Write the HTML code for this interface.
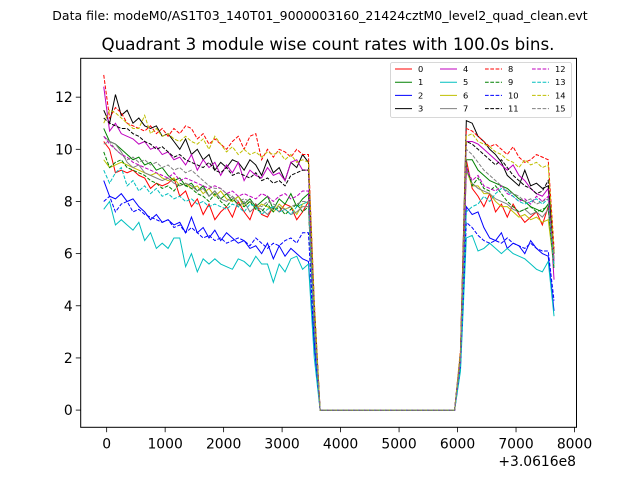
<!DOCTYPE html>
<html><head><meta charset="utf-8"><style>
body{margin:0;background:#fff}
svg{display:block;font-family:"DejaVu Sans","Liberation Sans",sans-serif}
</style></head><body>
<svg id="chart" width="640" height="480" viewBox="0 0 640 480">
<rect width="640" height="480" fill="#fff"/>
<text x="320" y="20" font-size="12.5" text-anchor="middle">Data file: modeM0/AS1T03_140T01_9000003160_21424cztM0_level2_quad_clean.evt</text>
<text x="328" y="50" font-size="16.7" text-anchor="middle">Quadrant 3 module wise count rates with 100.0s bins.</text>
<g id="plot"></g>
<g id="axes"></g>
<g id="legend"></g>
</svg>
<script>
const times = [];
for (let i = 0; i < 78; i++) times.push(-50 + 100 * i);
const gapZeros = [0,0,0,0,0,0,0,0,0,0,0,0,0,0,0,0,0,0,0,0,0,0,0,0];
const xTicks = [0,1000,2000,3000,4000,5000,6000,7000,8000];
const yTicks = [0,2,4,6,8,10,12];
const seriesNames = ["0","1","2","3","4","5","6","7","8","9","10","11","12","13","14","15"];
const s0 = [10.3,10.0,9.1,9.2,9.1,9.2,9.0,8.9,8.5,8.7,8.6,8.7,8.9,8.2,8.4,7.8,8.1,7.5,7.9,7.3,7.6,7.8,7.4,8.0,7.6,7.3,7.9,7.5,7.4,7.8,7.6,7.9,7.8,7.3,7.6,8.0,3.5, ...gapZeros, 2.0,9.6,8.5,8.2,7.8,8.3,7.6,7.9,7.4,7.9,7.5,7.2,7.4,7.6,7.1,7.8,5.8];
const s1 = [10.8,10.3,10.2,10.0,9.8,9.6,9.7,9.4,9.5,9.2,9.3,9.0,8.8,8.9,8.6,8.7,8.4,8.6,8.2,8.4,8.1,8.3,8.0,8.2,7.9,8.1,7.8,8.0,8.2,7.7,8.1,7.9,8.3,7.8,8.1,8.3,3.2, ...gapZeros, 2.1,9.6,9.6,9.2,9.0,8.8,8.7,8.6,8.5,8.3,8.1,8.0,7.8,7.7,7.6,7.9,6.0];
const s2 = [8.8,8.2,8.1,8.3,8.0,8.1,7.8,7.6,7.3,7.5,7.2,7.3,7.1,7.2,6.8,7.4,6.8,7.0,6.6,6.9,6.5,6.8,6.6,6.4,6.5,6.2,6.3,6.0,6.4,5.8,6.3,5.9,6.2,6.0,5.8,5.7,2.5, ...gapZeros, 1.8,7.8,7.5,7.6,7.0,6.6,6.5,6.8,6.2,6.4,6.3,6.0,6.5,6.2,6.0,5.9,3.8];
const s3 = [11.5,11.0,12.1,11.3,11.5,11.0,11.2,10.9,10.8,10.9,10.5,10.6,10.3,10.0,10.4,9.8,10.0,9.6,9.8,9.2,9.5,9.3,9.6,9.5,9.2,9.6,9.4,9.0,9.6,9.1,9.3,8.8,9.5,9.3,9.8,9.5,4.0, ...gapZeros, 2.2,11.1,11.0,10.5,10.3,10.0,9.8,9.5,9.0,8.8,8.6,9.2,8.6,8.7,8.5,8.6,6.0];
const s4 = [12.4,10.7,11.0,10.6,10.5,10.4,10.2,10.3,10.0,10.1,9.8,9.9,9.6,9.7,9.4,9.8,9.2,9.6,9.3,9.5,9.0,9.4,9.1,9.5,8.8,9.2,9.0,8.9,9.3,9.0,9.1,8.8,9.5,9.6,9.2,9.2,3.6, ...gapZeros, 2.0,10.3,10.3,10.2,10.0,9.8,9.6,9.4,9.2,9.4,9.0,8.8,8.5,8.3,8.2,8.5,5.0];
const s5 = [7.7,8.0,7.1,7.3,7.1,6.9,7.2,6.5,6.8,6.2,6.4,6.2,6.6,6.6,5.5,6.0,5.3,5.8,5.6,5.8,5.6,5.5,5.4,5.8,5.7,5.5,5.9,5.6,5.6,4.9,5.6,5.3,5.8,5.9,5.4,5.6,2.0, ...gapZeros, 1.5,6.6,6.7,6.1,6.2,6.4,6.2,6.0,6.2,6.0,5.9,5.8,5.6,5.4,5.3,5.7,3.6];
const s6 = [9.6,9.3,9.4,9.5,9.4,9.3,9.2,9.1,9.0,9.1,8.9,8.8,8.9,8.6,8.7,8.5,8.6,8.3,8.5,8.2,8.4,8.1,8.0,8.2,7.8,8.0,7.7,7.9,7.8,7.6,7.9,7.7,7.8,7.5,7.9,8.0,3.0, ...gapZeros, 2.0,9.2,8.6,8.6,8.3,8.3,8.0,7.8,7.8,7.6,7.4,7.5,7.3,7.4,7.2,7.3,5.5];
const s7 = [10.5,10.3,10.2,9.9,9.5,9.3,9.4,9.1,9.0,8.9,8.8,8.9,8.7,8.6,8.7,8.6,8.4,8.5,8.2,8.4,8.1,8.0,8.2,7.8,8.0,7.6,7.8,7.7,7.5,7.8,7.6,7.7,7.5,7.6,7.8,7.8,3.1, ...gapZeros, 1.9,9.2,8.7,8.5,8.4,8.3,8.1,8.0,7.9,7.7,7.6,7.7,7.5,7.6,7.4,7.7,5.6];
const s8 = [12.85,11.2,11.6,11.4,11.0,10.9,10.8,10.7,10.9,10.6,10.8,10.5,10.8,10.6,10.9,10.8,10.4,10.6,10.2,10.4,10.2,10.0,10.3,10.5,10.0,10.5,10.6,9.6,10.0,9.7,10.0,9.9,9.7,10.0,9.8,9.8,4.2, ...gapZeros, 2.3,10.8,10.7,10.5,10.3,10.1,10.2,10.0,9.8,10.1,9.7,9.5,9.6,9.8,9.7,9.6,6.2];
const s9 = [9.9,9.3,9.5,9.6,9.3,9.2,9.1,9.0,8.8,8.7,8.5,8.6,8.4,8.7,8.6,8.5,8.3,8.2,8.0,8.3,8.0,7.8,8.1,7.9,7.8,8.0,7.7,7.6,7.9,7.6,7.8,7.5,7.7,7.9,7.6,7.8,3.0, ...gapZeros, 2.0,9.4,8.6,8.9,8.5,8.4,8.6,8.3,8.0,7.8,7.6,7.7,7.8,7.6,7.7,7.8,5.4];
const s10 = [8.0,8.2,7.6,7.9,8.0,7.6,7.7,7.5,7.4,7.3,7.2,7.3,7.0,7.1,6.8,7.0,6.8,6.6,6.7,6.5,6.6,6.4,6.5,6.6,6.5,6.3,6.6,6.4,6.2,6.4,6.3,6.5,6.6,6.4,6.8,6.8,2.6, ...gapZeros, 1.7,7.2,7.0,6.7,6.5,6.4,6.5,6.4,6.6,6.4,6.3,6.2,6.4,6.2,6.1,6.1,4.2];
const s11 = [11.2,11.0,10.9,10.8,10.8,10.6,10.5,10.3,10.2,10.0,10.1,9.9,9.7,9.8,9.6,9.5,9.4,9.3,9.5,9.2,9.1,9.3,9.0,9.1,9.0,8.9,9.1,8.8,8.9,8.7,8.8,8.6,9.0,9.1,9.2,9.2,3.8, ...gapZeros, 2.1,10.3,10.2,10.0,9.8,9.6,9.4,9.6,9.3,9.0,8.8,8.6,8.5,8.3,8.4,8.8,6.0];
const s12 = [10.5,10.2,10.0,9.8,9.7,9.5,9.4,9.3,9.2,9.1,9.0,8.9,9.1,8.8,8.9,8.8,8.7,8.6,8.5,8.6,8.5,8.3,8.4,8.2,8.3,8.2,8.1,8.3,8.2,8.0,8.2,8.3,8.1,8.2,8.4,8.4,3.3, ...gapZeros, 1.9,9.3,8.8,9.0,8.6,8.5,8.4,8.6,8.3,8.2,8.0,8.1,7.9,8.2,8.0,8.2,5.7];
const s13 = [9.2,8.7,9.1,9.3,8.6,8.8,8.4,8.6,8.3,8.5,8.2,8.3,8.1,8.2,8.0,8.1,7.9,8.0,7.8,7.9,7.8,7.7,7.9,7.8,7.6,7.9,7.8,7.5,7.7,7.8,7.6,7.7,7.5,7.8,7.9,8.0,3.0, ...gapZeros, 1.6,7.6,7.8,7.9,8.2,8.0,8.3,8.5,8.4,8.2,8.0,7.9,8.0,8.1,7.9,8.1,5.5];
const s14 = [11.0,11.5,11.4,11.2,11.0,10.8,10.8,11.3,10.6,10.8,10.5,10.6,10.4,10.3,10.5,10.3,10.2,10.4,10.0,10.5,10.2,9.9,10.1,9.8,10.0,9.8,9.9,9.7,9.9,9.8,9.9,9.6,9.8,9.5,9.6,9.5,4.1, ...gapZeros, 2.2,10.5,10.6,10.3,10.2,10.1,9.9,9.8,9.6,9.5,9.3,9.6,9.4,9.5,9.3,9.4,6.0];
const s15 = [10.2,10.3,10.0,9.8,9.6,9.7,9.5,9.6,9.4,9.5,9.3,9.4,9.2,9.3,9.1,9.2,9.0,8.8,8.6,8.5,8.5,8.3,8.2,8.0,8.1,8.0,7.9,7.8,8.0,7.9,7.8,7.7,7.8,7.9,8.0,8.0,3.3, ...gapZeros, 2.0,10.0,9.8,9.5,9.2,9.0,8.8,8.6,8.4,8.3,8.2,8.0,8.1,7.9,8.0,8.1,5.8];
const seriesValues = [s0,s1,s2,s3,s4,s5,s6,s7,s8,s9,s10,s11,s12,s13,s14,s15];
const colors = ["#ff0000","#008000","#0000ff","#000000","#bf00bf","#00bfbf","#bfbf00","#808080"];

const L=80.7, R=576.5, T=58.3, B=427.3;
const X0=-444, X1=8034, Y0=-0.66, Y1=13.49;
const xs = v => L + (v - X0) / (X1 - X0) * (R - L);
const ys = v => B - (v - Y0) / (Y1 - Y0) * (B - T);
const NS="http://www.w3.org/2000/svg";
function mk(tag, attrs, parent){const e=document.createElementNS(NS,tag);for(const k in attrs)e.setAttribute(k,attrs[k]);parent.appendChild(e);return e;}

const plot=document.getElementById('plot');
seriesValues.forEach((vals,si)=>{
  const pts=vals.map((v,i)=>xs(times[i]).toFixed(2)+","+ys(v).toFixed(2)).join(" ");
  const attrs={points:pts,fill:"none",stroke:colors[si%8],"stroke-width":"1"};
  if(si>=8) attrs["stroke-dasharray"]="3.7 1.6";
  const pl=mk('polyline',attrs,plot);
  
  
});

const axes=document.getElementById('axes');
const frame=mk('rect',{x:L,y:T,width:R-L,height:B-T,fill:"none",stroke:"#000","stroke-width":"1"},axes);


xTicks.forEach(t=>{
  const x=xs(t);
  const tk=mk('line',{x1:x,y1:B,x2:x,y2:B+4.9,stroke:"#000","stroke-width":"0.8"},axes);
  
  
  const lb=mk('text',{x:x,y:B+21,"font-size":"13.9","text-anchor":"middle"},axes);
  lb.textContent=String(t);
  
  
});
yTicks.forEach(t=>{
  const y=ys(t);
  const tk=mk('line',{x1:L-4.9,y1:y,x2:L,y2:y,stroke:"#000","stroke-width":"0.8"},axes);
  
  
  const lb=mk('text',{x:L-8,y:y+5,"font-size":"13.9","text-anchor":"end"},axes);
  lb.textContent=String(t);
  
  
});
const off=mk('text',{x:576,y:466,"font-size":"13.9","text-anchor":"end"},axes);
off.textContent="+3.0616e8";



const lg=document.getElementById('legend');
const box=mk('rect',{x:390.5,y:62.5,width:181,height:55,rx:2,fill:"#fff","fill-opacity":"0.8",stroke:"#ccc","stroke-width":"0.8"},lg);


const colX=[395,440,485,532];
seriesNames.forEach((n,si)=>{
  const c=Math.floor(si/4), r=si%4;
  const y=69+r*13.2, x=colX[c];
  const g=mk('g',{},lg);
  
  
  const a={x1:x,y1:y,x2:x+17,y2:y,stroke:colors[si%8],"stroke-width":"1"};
  if(si>=8) a["stroke-dasharray"]="3.7 1.6";
  mk('line',a,g);
  const t=mk('text',{x:x+23,y:y+3,"font-size":"8.3"},g);
  t.textContent=n;
});
</script>
</body></html>
